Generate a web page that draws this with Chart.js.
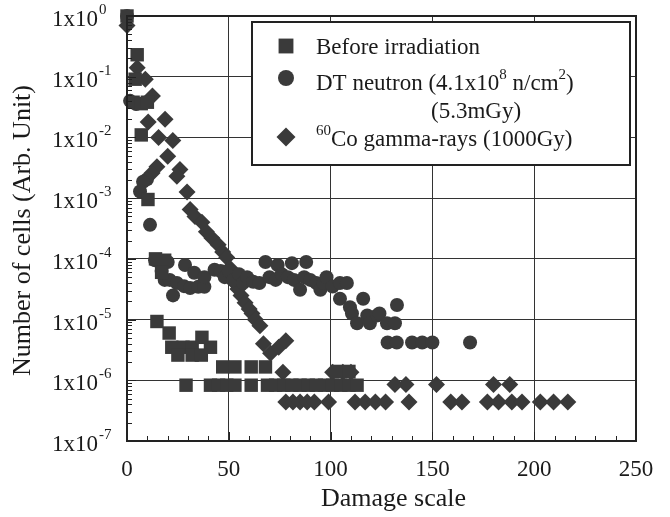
<!DOCTYPE html>
<html>
<head>
<meta charset="utf-8">
<script src="https://cdn.jsdelivr.net/npm/chart.js@4.4.1/dist/chart.umd.min.js"></script>
<style>
  html, body { margin: 0; padding: 0; background: #fff; }
  #wrap { width: 670px; height: 517px; }
</style>
</head>
<body>
<div id="wrap"><canvas id="chart" width="670" height="517"></canvas></div>
<script>
/* ====== DATA ====== */

// Before irradiation (squares)
const beforeX = [0, 5, 4, 3, 7, 10, 7, 10.3, 14, 18.5, 17,
  14.7, 20.7, 22, 27.5, 32, 41, 36.8, 25, 32, 36.5,
  47, 53, 61, 68, 103, 109,
  29, 41, 45, 49, 53, 61, 69, 73, 77, 81, 85, 89, 93, 97, 101, 105, 109, 113];
const beforeY = [1, 0.23, 0.091, 0.038, 0.036, 0.038, 0.011, 9.5e-4, 1.0e-4, 9.5e-5, 6.0e-5,
  9.3e-6, 6.0e-6, 3.5e-6, 3.5e-6, 3.5e-6, 3.5e-6, 5.1e-6, 2.6e-6, 2.6e-6, 2.6e-6,
  1.66e-6, 1.66e-6, 1.66e-6, 1.66e-6, 1.4e-6, 1.4e-6,
  8.3e-7, 8.3e-7, 8.3e-7, 8.3e-7, 8.3e-7, 8.3e-7, 8.3e-7, 8.3e-7, 8.3e-7, 8.3e-7, 8.3e-7,
  8.3e-7, 8.3e-7, 8.3e-7, 8.3e-7, 8.3e-7, 8.3e-7, 8.3e-7];

// DT neutron (circles)
const neutronX = [0, 1.5, 4.5, 9.8, 7.9, 6.4, 11.3, 13.8, 20, 28.5, 17, 18.5, 21, 22.6,
  24.5, 28, 31, 35, 38, 33, 38, 43, 46, 48, 50, 52, 55, 57, 59, 62, 65,
  68, 74, 81, 88, 70, 73, 76, 79, 82, 85, 87, 90, 93, 95, 96.5, 98, 101,
  104.6, 108, 104.6, 116, 109.5, 110.5, 113, 118, 119.3, 122.8, 124, 127.7,
  131.6, 132.6, 128, 132.5, 140, 145, 150, 168.5];
const neutronY = [1, 0.04, 0.0355, 2.04e-3, 1.86e-3, 1.29e-3, 3.63e-4, 9.5e-5, 8.9e-5, 7.9e-5, 6.3e-5, 4.5e-5, 4.5e-5, 2.5e-5,
  4.0e-5, 3.55e-5, 3.3e-5, 3.47e-5, 3.47e-5, 5.9e-5, 5.0e-5, 6.6e-5, 6.3e-5, 5.0e-5, 6.3e-5, 4.5e-5, 5.6e-5, 4.0e-5, 5.0e-5, 4.2e-5, 4.0e-5,
  8.9e-5, 7.9e-5, 8.5e-5, 8.9e-5, 5.0e-5, 4.5e-5, 5.6e-5, 5.0e-5, 4.5e-5, 3.1e-5, 5.0e-5, 4.5e-5, 4.0e-5, 3.1e-5, 4.0e-5, 5.0e-5, 3.5e-5,
  4.0e-5, 4.0e-5, 2.2e-5, 2.2e-5, 1.6e-5, 1.26e-5, 8.7e-6, 1.17e-5, 8.7e-6, 1.17e-5, 1.26e-5, 8.7e-6,
  8.7e-6, 1.74e-5, 4.2e-6, 4.2e-6, 4.2e-6, 4.2e-6, 4.2e-6, 4.2e-6];

// 60Co gamma-rays (diamonds)
const gammaX = [0, 5, 9, 12.5, 10.4, 18.7, 15.5, 22.5, 20, 14.7, 12.3, 26, 24.5, 29.5,
  31, 33.4, 36.8, 39, 41.7, 44.8, 47, 49, 50.5, 51.5, 53, 54.5, 56, 58, 60, 61.4, 63, 65.3,
  67, 70.5, 74.5, 78, 76.6, 101, 106, 110,
  131.6, 137, 152, 180, 188,
  78, 81.5, 85, 88.5, 92, 99, 112, 117, 122, 127, 138.5, 159, 164.5, 177, 182.5, 189, 194, 203, 209.5, 216.5];
const gammaY = [0.7, 0.141, 0.091, 0.048, 0.018, 0.020, 0.010, 0.0089, 4.9e-3, 3.3e-3, 2.6e-3, 2.95e-3, 2.3e-3, 1.26e-3,
  6.5e-4, 5.0e-4, 4.0e-4, 2.8e-4, 2.2e-4, 1.7e-4, 1.3e-4, 1.05e-4, 7.1e-5, 5.0e-5, 4.0e-5, 3.2e-5, 2.5e-5, 1.9e-5, 1.5e-5, 1.26e-5, 1.0e-5, 7.9e-6,
  4.0e-6, 2.8e-6, 3.5e-6, 4.5e-6, 1.35e-6, 1.35e-6, 1.35e-6, 1.35e-6,
  8.5e-7, 8.5e-7, 8.5e-7, 8.5e-7, 8.5e-7,
  4.4e-7, 4.4e-7, 4.4e-7, 4.4e-7, 4.4e-7, 4.4e-7, 4.4e-7, 4.4e-7, 4.4e-7, 4.4e-7, 4.4e-7, 4.4e-7, 4.4e-7, 4.4e-7,
  4.4e-7, 4.4e-7, 4.4e-7, 4.4e-7, 4.4e-7, 4.4e-7];

const xTicks = [0, 50, 100, 150, 200, 250];
const yExponents = [0, -1, -2, -3, -4, -5, -6, -7];

const xTitle = "Damage scale";
const yTitle = "Number of cells (Arb. Unit)";

const ink = "#3a3a3a";
const serif = '"Liberation Serif", "Times New Roman", serif';

function pts(xs, ys) {
  return xs.map((x, i) => ({ x: x, y: ys[i] }));
}

/* ====== AXES, LABELS, LEGEND ====== */

const paperPlugin = {
  id: "paper",
  beforeDraw(chart) {
    const ctx = chart.ctx;
    ctx.save();
    ctx.fillStyle = "#fff";
    ctx.fillRect(0, 0, chart.width, chart.height);
    ctx.restore();
  },
  afterDatasetsDraw(chart) {
    const { ctx } = chart;
    const ds = chart.data.datasets;
    ctx.save();
    // legend box
    ctx.fillStyle = "#fff";
    ctx.fillRect(252, 22, 378, 143);
    ctx.strokeStyle = "#222";
    ctx.lineWidth = 2;
    ctx.strokeRect(252, 22, 378, 143);

    const mx = 286;
    const rows = [46, 78, 137];
    ds.forEach((d, i) => {
      ctx.fillStyle = d.backgroundColor;
      Chart.helpers.drawPoint(ctx, { pointStyle: d.pointStyle, radius: d.pointRadius + 1, rotation: 0, borderWidth: 0 }, mx, rows[i]);
    });

    ctx.fillStyle = "#1a1a1a";
    ctx.textBaseline = "middle";
    ctx.textAlign = "left";
    const big = "23px " + serif, small = "15px " + serif;
    function run(parts, x, yy) {
      parts.forEach(p => {
        ctx.font = p.sup ? small : big;
        ctx.fillText(p.t, x, p.sup ? yy - 9 : yy);
        x += ctx.measureText(p.t).width;
      });
    }
    run([{ t: "Before irradiation" }], 316, 48);
    run([{ t: "DT neutron (4.1x10" }, { t: "8", sup: true }, { t: " n/cm" }, { t: "2", sup: true }, { t: ")" }], 316, 84);
    ctx.font = big;
    ctx.textAlign = "center";
    ctx.fillText("(5.3mGy)", 476, 112);
    ctx.textAlign = "left";
    run([{ t: "60", sup: true }, { t: "Co gamma-rays (1000Gy)" }], 316, 140);
    ctx.restore();
  },
  afterDraw(chart) {
    const { ctx, chartArea: a, scales: { x, y } } = chart;
    ctx.save();
    ctx.strokeStyle = "#222";
    ctx.lineWidth = 1;

    // inner ticks, left axis
    ctx.beginPath();
    yExponents.forEach(e => {
      const py = Math.round(y.getPixelForValue(Math.pow(10, e))) + 0.5;
      ctx.moveTo(a.left, py); ctx.lineTo(a.left + 9, py);
      if (e > -7) {
        for (let m = 2; m <= 9; m++) {
          const q = Math.round(y.getPixelForValue(m * Math.pow(10, e - 1))) + 0.5;
          ctx.moveTo(a.left, q); ctx.lineTo(a.left + 5, q);
        }
      }
    });
    // inner ticks, bottom axis
    for (let v = 10; v < 250; v += 10) {
      const px = Math.round(x.getPixelForValue(v)) + 0.5;
      ctx.moveTo(px, a.bottom); ctx.lineTo(px, a.bottom - (v % 50 === 0 ? 9 : 5));
    }
    ctx.stroke();

    // frame
    ctx.lineWidth = 2;
    ctx.strokeRect(a.left, a.top, a.right - a.left, a.bottom - a.top);

    // y tick labels 1x10^n
    ctx.fillStyle = "#1a1a1a";
    ctx.textBaseline = "middle";
    ctx.textAlign = "left";
    yExponents.forEach(e => {
      const py = y.getPixelForValue(Math.pow(10, e));
      ctx.font = "23px " + serif;
      ctx.fillText("1x10", 52, py + 4);
      const w = ctx.measureText("1x10").width;
      ctx.font = "15px " + serif;
      ctx.fillText(String(e), 52 + w + 1, py - 6);
    });

    // x tick labels
    ctx.font = "23px " + serif;
    ctx.textAlign = "center";
    xTicks.forEach(v => {
      ctx.fillText(String(v), x.getPixelForValue(v), 470);
    });

    // titles
    ctx.font = "26px " + serif;
    ctx.fillText(xTitle, (a.left + a.right) / 2 + 12, 499);
    ctx.translate(23, (a.top + a.bottom) / 2 + 2);
    ctx.rotate(-Math.PI / 2);
    ctx.fillText(yTitle, 0, 0);
    ctx.restore();
  }
};

/* ====== CHART ====== */

new Chart(document.getElementById("chart"), {
  type: "scatter",
  data: {
    datasets: [
      { label: "Before irradiation", data: pts(beforeX, beforeY), pointStyle: "rect", pointRadius: 9.5,
        backgroundColor: ink, borderWidth: 0, clip: 12 },
      { label: "DT neutron", data: pts(neutronX, neutronY), pointStyle: "circle", pointRadius: 7,
        backgroundColor: ink, borderWidth: 0, clip: 12 },
      { label: "60Co gamma-rays", data: pts(gammaX, gammaY), pointStyle: "rectRot", pointRadius: 8.5,
        backgroundColor: ink, borderWidth: 0, clip: 12 }
    ]
  },
  options: {
    responsive: false,
    animation: false,
    events: [],
    layout: { padding: { left: 127, right: 34, top: 16, bottom: 76 } },
    plugins: { legend: { display: false }, tooltip: { enabled: false } },
    scales: {
      x: {
        type: "linear", min: 0, max: 250,
        ticks: { display: false, stepSize: 50 },
        grid: { color: "#333", lineWidth: 1, drawTicks: false },
        border: { display: false }
      },
      y: {
        type: "logarithmic", min: 1e-7, max: 1,
        ticks: { display: false },
        grid: {
          drawTicks: false,
          lineWidth: 1,
          color: c => {
            const l = Math.log10(c.tick.value);
            return Math.abs(l - Math.round(l)) < 1e-6 ? "#333" : "rgba(0,0,0,0)";
          }
        },
        border: { display: false }
      }
    }
  },
  plugins: [paperPlugin]
});
</script>
</body>
</html>
